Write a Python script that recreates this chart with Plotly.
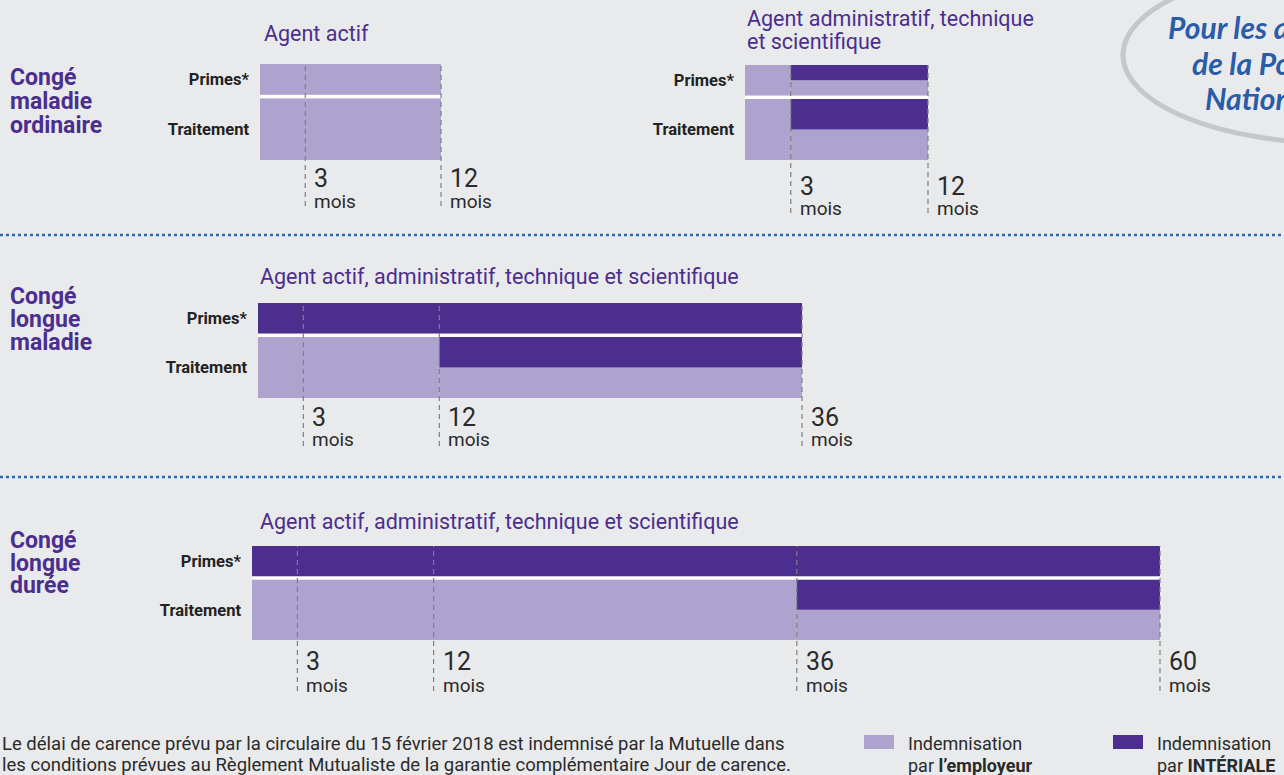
import plotly.graph_objects as go

W, H = 1284, 775

# ---------------- data ----------------
categories = [["Congé", "maladie", "ordinaire"],
              ["Congé", "longue", "maladie"],
              ["Congé", "longue", "durée"]]
panel_titles = [["Agent actif"],
                ["Agent administratif, technique", "et scientifique"],
                ["Agent actif, administratif, technique et scientifique"],
                ["Agent actif, administratif, technique et scientifique"]]
rows = ["Primes*", "Traitement"]
milestones = [[3, 12], [3, 12], [3, 12, 36], [3, 12, 36, 60]]
unit_label = "mois"

# periods (months) and share paid by INTÉRIALE (0, 0.5 or 1)
primes_start = [[0], [0, 3], [0], [0]]
primes_end = [[12], [3, 12], [36], [60]]
primes_interiale = [[0], [0, 0.5], [1], [1]]
traitement_start = [[0], [0, 3], [0, 12], [0, 36]]
traitement_end = [[12], [3, 12], [12, 36], [36, 60]]
traitement_interiale = [[0], [0, 0.5], [0, 0.5], [0, 0.5]]

legend_labels = [["Indemnisation", "par <b>l’employeur</b>"],
                 ["Indemnisation", "par <b>INTÉRIALE</b>"]]
note_lines = ["Le délai de carence prévu par la circulaire du 15 février 2018 est indemnisé par la Mutuelle dans",
              "les conditions prévues au Règlement Mutualiste de la garantie complémentaire Jour de carence."]
bubble_lines = ["Pour les agents", "de la Police", "Nationale"]

# ---------------- style / layout ----------------
LIGHT = "#ADA3CE"
DARK = "#4B2E8D"
PURPLE_TXT = "#4B2E8D"
BG = "#E9EAEC"
FONT = "Roboto, 'Noto Sans', sans-serif"


def stack(lines, sizes):
    """multi-line text with per-line font sizes (line spacing set by the base font)."""
    return "<br>".join(f"<span style='font-size:{s}px'>{t}</span>" for t, s in zip(lines, sizes))


# y units inside a panel: traitement [0,2], gap, primes [2.12, 3.12]
TR_TOP = 2.0
PR_BOT = 2.12
TOP = 3.12

geom = [
    dict(x0=260, x1=441, top=64, bottom=160, dash=206, num=178, mois=199, tx=262, ty=[33]),
    dict(x0=745, x1=928, top=65, bottom=160, dash=213, num=186, mois=206, tx=745, ty=[18, 41]),
    dict(x0=258, x1=802, top=303, bottom=398, dash=446, num=417, mois=437, tx=258, ty=[276]),
    dict(x0=252, x1=1160, top=546, bottom=640, dash=691, num=661, mois=683, tx=258, ty=[521]),
]
cat_y = [[77, 101, 125], [297, 320, 343], [540, 563, 585]]

fig = go.Figure()
annotations = []
shapes = []
PADX = 4
PADY = 2

for i, g in enumerate(geom):
    sfx = "" if i == 0 else str(i + 1)
    xr, yr = "x" + sfx, "y" + sfx
    mmax = max(milestones[i])
    ppm = (g["x1"] - g["x0"]) / mmax
    u = (g["bottom"] - g["top"]) / TOP
    ymin = -(g["dash"] - g["bottom"]) / u

    def py(px, g=g, u=u):
        return (g["bottom"] - px) / u

    fig.layout["xaxis" + sfx] = dict(
        domain=[(g["x0"] - PADX) / W, (g["x1"] + PADX) / W],
        range=[-PADX / ppm, mmax + PADX / ppm], visible=False, anchor=yr, fixedrange=True)
    fig.layout["yaxis" + sfx] = dict(
        domain=[1 - g["dash"] / H, 1 - (g["top"] - PADY) / H],
        range=[ymin, TOP + PADY / u], anchor=xr, showgrid=False, zeroline=False, showline=False,
        ticks="", tickvals=[(PR_BOT + TOP) / 2, TR_TOP / 2], ticktext=rows,
        ticklabelstandoff=6, tickfont=dict(family=FONT, size=16.5, color="#222222", weight="bold"),
        fixedrange=True)

    segs = {"light": dict(y=[], base=[], x=[], w=[]), "dark": dict(y=[], base=[], x=[], w=[])}

    def add(kind, lo, hi, s, e):
        if hi - lo <= 1e-9:
            return
        segs[kind]["y"].append((lo + hi) / 2)
        segs[kind]["w"].append(hi - lo)
        segs[kind]["base"].append(s)
        segs[kind]["x"].append(e - s)

    for s, e, sh in zip(primes_start[i], primes_end[i], primes_interiale[i]):
        add("light", PR_BOT, TOP - sh, s, e)
        add("dark", TOP - sh, TOP, s, e)
    for s, e, sh in zip(traitement_start[i], traitement_end[i], traitement_interiale[i]):
        add("light", 0, TR_TOP - 2 * sh, s, e)
        add("dark", TR_TOP - 2 * sh, TR_TOP, s, e)

    # white separator between rows
    fig.add_trace(go.Bar(orientation="h", y=[(TR_TOP + PR_BOT) / 2], base=[0], x=[mmax],
                         width=[PR_BOT - TR_TOP], marker=dict(color="white", line=dict(width=0)),
                         xaxis=xr, yaxis=yr, showlegend=False, hoverinfo="skip"))
    for kind, col in (("light", LIGHT), ("dark", DARK)):
        d = segs[kind]
        if d["y"]:
            fig.add_trace(go.Bar(orientation="h", y=d["y"], base=d["base"], x=d["x"], width=d["w"],
                                 marker=dict(color=col, line=dict(width=0)),
                                 xaxis=xr, yaxis=yr, showlegend=False, hoverinfo="skip"))

    # dashed milestones
    xs, ys = [], []
    for m in milestones[i]:
        xs += [m, m, None]
        ys += [ymin, TOP, None]
    fig.add_trace(go.Scatter(x=xs, y=ys, mode="lines", xaxis=xr, yaxis=yr, showlegend=False,
                             hoverinfo="skip", line=dict(color="#7f7f7f", width=1.2, dash="5px,4px")))
    for m in milestones[i]:
        annotations.append(dict(
            x=m, y=py((g["num"] + g["mois"]) / 2), xref=xr, yref=yr,
            text=stack([str(m), unit_label], [25, 19]),
            showarrow=False, xanchor="left", yanchor="middle", xshift=7, align="left",
            font=dict(family=FONT, size=(g["mois"] - g["num"]) / 1.3, color="#2a2a2a")))
    ty = g["ty"]
    sp = (ty[-1] - ty[0]) / (len(ty) - 1) if len(ty) > 1 else 21.5 * 1.3
    annotations.append(dict(x=g["tx"] / W, y=1 - (sum(ty) / len(ty)) / H, xref="paper", yref="paper",
                            text=stack(panel_titles[i], [21.5] * len(ty)), align="left",
                            showarrow=False, xanchor="left", yanchor="middle",
                            font=dict(family=FONT, size=sp / 1.3, color=PURPLE_TXT)))

# category labels
for lines, ys in zip(categories, cat_y):
    sp = (ys[-1] - ys[0]) / (len(ys) - 1)
    annotations.append(dict(x=8 / W, y=1 - (sum(ys) / len(ys)) / H, xref="paper", yref="paper",
                            text=stack(lines, [23] * len(lines)), align="left",
                            showarrow=False, xanchor="left", yanchor="middle",
                            font=dict(family=FONT, size=sp / 1.3, color=PURPLE_TXT, weight="bold")))

# separators
for y in (235, 477):
    shapes.append(dict(type="line", xref="paper", yref="paper", x0=0, x1=1, y0=1 - y / H, y1=1 - y / H,
                       line=dict(color="#2E6BB3", width=2.5, dash="dot")))

# bubble
shapes.append(dict(type="circle", xref="paper", yref="paper", x0=1123 / W, x1=1547 / W,
                   y0=1 - 143 / H, y1=1 + 33 / H, line=dict(color="#C6C7CB", width=5)))
for line, x, y in zip(bubble_lines, (1166, 1190, 1203), (27, 63, 98)):
    annotations.append(dict(x=x / W, y=1 - y / H, xref="paper", yref="paper", text=f"<b><i>{line}</i></b>",
                            showarrow=False, xanchor="left", yanchor="middle",
                            font=dict(family="Lato, 'Open Sans', sans-serif", size=30, color="#2A5CA8")))

# note
annotations.append(dict(x=0, y=1 - 754 / H, xref="paper", yref="paper", text=stack(note_lines, [18.5, 18.5]),
                        showarrow=False, xanchor="left", yanchor="middle", align="left",
                        font=dict(family=FONT, size=21 / 1.3, color="#2a2a2a")))

# legend
for labels, col, sx in zip(legend_labels, (LIGHT, DARK), (864, 1113)):
    shapes.append(dict(type="rect", xref="paper", yref="paper", x0=sx / W, x1=(sx + 30) / W,
                       y0=1 - 749 / H, y1=1 - 735 / H, fillcolor=col, line=dict(width=0)))
    annotations.append(dict(x=(sx + 42) / W, y=1 - 754 / H, xref="paper", yref="paper",
                            text=stack(labels, [18, 18]), align="left",
                            showarrow=False, xanchor="left", yanchor="middle",
                            font=dict(family=FONT, size=22 / 1.3, color="#2a2a2a")))

fig.update_layout(width=W, height=H, autosize=False, margin=dict(l=0, r=0, t=0, b=0, pad=0),
                  paper_bgcolor=BG, plot_bgcolor="rgba(0,0,0,0)", barmode="overlay",
                  showlegend=False, annotations=annotations, shapes=shapes)

fig.write_html("out.html", config={"displayModeBar": False},
               post_script="document.body.style.margin='0';document.body.style.overflow='hidden';")
